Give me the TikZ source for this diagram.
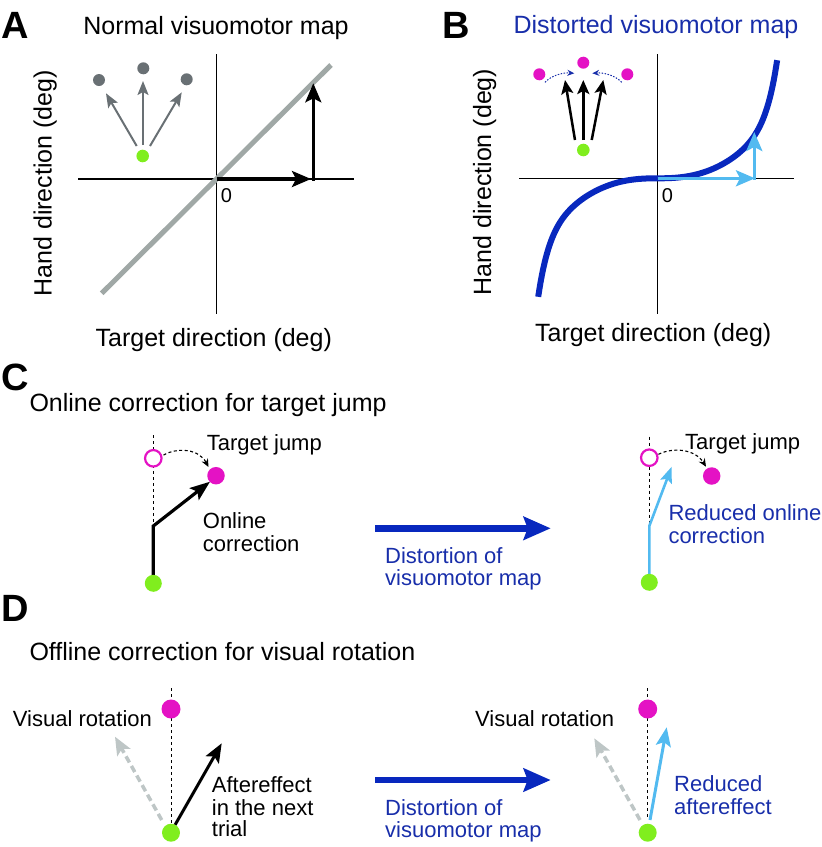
\documentclass[tikz,border=0pt]{standalone}
\usepackage{fontspec}
\setmainfont{Liberation Sans}
\usetikzlibrary{arrows.meta}
\definecolor{mag}{RGB}{228,18,196}
\definecolor{grn}{RGB}{128,238,30}
\definecolor{dblue}{RGB}{8,40,190}
\definecolor{tblue}{RGB}{24,46,170}
\definecolor{lblue}{RGB}{82,186,240}
\definecolor{lgray}{RGB}{160,168,166}
\definecolor{dgray}{RGB}{105,112,116}
\definecolor{pgray}{RGB}{190,198,198}
\begin{document}
\begin{tikzpicture}[x=1pt,y=-1pt,
  lab/.style={inner sep=0pt, anchor=base west, font=\fontsize{22}{22}\selectfont},
  ttl/.style={inner sep=0pt, font=\fontsize{25}{30}\selectfont},
  letter/.style={inner sep=0pt, anchor=base west, font=\fontsize{38}{40}\selectfont\bfseries},
  zero/.style={inner sep=0pt, anchor=base west, font=\fontsize{20}{20}\selectfont},
  dot/.style={circle, inner sep=0pt, minimum size=#1},
  ring/.style={circle, inner sep=0pt, minimum size=16.5pt, draw=mag, line width=2.2pt, fill=white},
  axisline/.style={line width=1.2pt},
  guide/.style={line width=1pt, dash pattern=on 3pt off 3pt},
  jumparc/.style={line width=1.1pt, dash pattern=on 3pt off 2.5pt, -{Stealth[length=8pt,width=7pt]}},
  bigarrow/.style={dblue, line width=6.7pt, -{Stealth[length=27pt,width=23pt,inset=4pt]}},
  blkarrow/.style={line width=3.2pt, -{Stealth[length=19pt,width=16pt,inset=4pt]}},
  lbarrow/.style={lblue, line width=3.2pt, -{Stealth[length=19pt,width=16pt,inset=4pt]}},
  fanarrow/.style={dgray, line width=2pt, -{Stealth[length=14pt,width=11pt,inset=3pt]}},
  fanblack/.style={black, line width=2.5pt, -{Stealth[length=14pt,width=12pt,inset=3pt]}},
  dotarc/.style={tblue, line width=1pt, dash pattern=on 1.5pt off 1.5pt, -{Stealth[length=7pt,width=6pt]}},
  rotarrow/.style={pgray, line width=3.5pt, dash pattern=on 7pt off 4pt, -{Stealth[length=18pt,width=15pt,inset=4pt]}},
]
\useasboundingbox (0,0) rectangle (822,847);

% ================= Panel A =================
\node[letter] (lA) at (1.7,38.3) {A};
\node[ttl, anchor=base] (tA) at (216,34) {Normal visuomotor map};
\coordinate (ayT) at (216.7,54); \coordinate (ayB) at (216.7,314);
\coordinate (axL) at (78.3,179); \coordinate (axR) at (354,179);
\draw[axisline] (ayT) -- (ayB);
\draw[axisline] (axL) -- (axR);
\coordinate (dL) at (101.7,293.3); \coordinate (dR) at (331,65);
\draw[lgray, line width=5pt] (dL) -- (dR);
\coordinate (oA) at (216.7,179); \coordinate (hA) at (311,179);
\coordinate (vA0) at (313.3,180.6); \coordinate (vA1) at (313.3,83.3);
\draw[blkarrow] (oA) -- (hA);
\draw[blkarrow] (vA0) -- (vA1);
\node[zero] (zA) at (220.7,202.7) {0};
\node[ttl, rotate=90, anchor=base] (yA) at (51.7,183.3) {Hand direction (deg)};
\node[ttl, anchor=base] (xA) at (213.8,346.7) {Target direction (deg)};
% inset
\node[dot=12.6pt, fill=grn] (gA) at (142.7,156) {};
\node[dot=12pt, fill=dgray] (pA1) at (99,80) {};
\node[dot=12pt, fill=dgray] (pA2) at (143.3,68.3) {};
\node[dot=12pt, fill=dgray] (pA3) at (186.7,79.3) {};
\coordinate (sA1) at (136.7,146); \coordinate (eA1) at (106,93.3);
\coordinate (sA2) at (143,145);   \coordinate (eA2) at (143,81);
\coordinate (sA3) at (150,146);   \coordinate (eA3) at (181.7,92.3);
\draw[fanarrow] (sA1) -- (eA1);
\draw[fanarrow] (sA2) -- (eA2);
\draw[fanarrow] (sA3) -- (eA3);

% ================= Panel B =================
\node[letter] (lB) at (442.7,38.3) {B};
\node[ttl, anchor=base, text=tblue] (tB) at (656,33.5) {Distorted visuomotor map};
\coordinate (byT) at (657.7,54); \coordinate (byB) at (657.7,314);
\coordinate (bxL) at (519.3,178.3); \coordinate (bxR) at (794.3,178.3);
\draw[axisline] (byT) -- (byB);
\draw[axisline] (bxL) -- (bxR);
\draw[dblue, line width=6pt]
  plot[domain=-1:1, samples=121, smooth]
  ({657.7+119.5*\x},{178.3-118.5*\x*abs(\x)*(0.55*sqrt(abs(\x))+0.45*(\x*\x)*(\x*\x)*(\x*\x)*(\x*\x)*(\x*\x))});
\coordinate (oB) at (657.7,178.3); \coordinate (hB) at (755,178.3);
\coordinate (vB0) at (754.3,179.9); \coordinate (vB1) at (754.3,132);
\draw[lbarrow] (oB) -- (hB);
\draw[lbarrow] (vB0) -- (vB1);
\node[zero] (zB) at (661.7,202) {0};
\node[ttl, rotate=90, anchor=base] (yB) at (491,182) {Hand direction (deg)};
\node[ttl, anchor=base] (xB) at (653.2,341.7) {Target direction (deg)};
% inset
\node[dot=12.6pt, fill=grn] (gB) at (583.3,150) {};
\node[dot=12pt, fill=mag] (mB1) at (539.3,74.3) {};
\node[dot=12pt, fill=mag] (mB2) at (583.3,62.7) {};
\node[dot=12pt, fill=mag] (mB3) at (627.3,74.3) {};
\coordinate (sB1) at (575,140);   \coordinate (eB1) at (565,80);
\coordinate (sB2) at (583.3,140); \coordinate (eB2) at (583.3,80);
\coordinate (sB3) at (591.7,140); \coordinate (eB3) at (603.3,80);
\draw[fanblack] (sB1) -- (eB1);
\draw[fanblack] (sB2) -- (eB2);
\draw[fanblack] (sB3) -- (eB3);
\coordinate (aB1) at (545,82.3);  \coordinate (bB1) at (574.3,73.3);
\coordinate (aB2) at (621.7,82.3); \coordinate (bB2) at (592.3,73.3);
\draw[dotarc] (aB1) .. controls (552,75) and (563,72.5) .. (bB1);
\draw[dotarc] (aB2) .. controls (614.7,75) and (603.7,72.5) .. (bB2);

% ================= Panel C =================
\node[letter] (lC) at (1.7,390) {C};
\node[ttl, anchor=base west] (tC) at (29.3,411.7) {Online correction for target jump};
% left
\coordinate (cg1) at (153.3,583.3);
\coordinate (cd1a) at (153.3,435); \coordinate (cd1b) at (153.3,525);
\draw[guide] (cd1a) -- (cd1b);
\coordinate (ck1) at (153.3,526); \coordinate (ct1) at (210,481.7);
\draw[line width=3.2pt, line join=miter, -{Stealth[length=20pt,width=15pt,inset=4pt]}] (cg1) -- (ck1) -- (ct1);
\node[ring] (oc1) at (153.3,458.3) {};
\node[dot=17.5pt, fill=mag] (m1) at (216,475.7) {};
\node[dot=17pt, fill=grn] (g1) at (cg1) {};
\coordinate (ja1) at (163.5,455); \coordinate (jb1) at (208.5,467);
\draw[jumparc] (ja1) .. controls (178,447) and (199,449) .. (jb1);
\node[lab] (tj1) at (206.7,450) {Target jump};
\node[lab] (oc1a) at (202.7,528.3) {Online};
\node[lab] (oc1b) at (202.7,551.7) {correction};
% middle
\coordinate (ba1) at (375,528.3); \coordinate (bb1) at (550.7,528.3);
\draw[bigarrow] (ba1) -- (bb1);
\node[lab, text=tblue] (dc1) at (385,563.3) {Distortion of};
\node[lab, text=tblue] (dc2) at (385,585.7) {visuomotor map};
% right
\coordinate (cg2) at (649.3,582.3);
\coordinate (cd2a) at (649.3,436.7); \coordinate (cd2b) at (649.3,526.7);
\draw[guide] (cd2a) -- (cd2b);
\coordinate (ck2) at (649.3,526); \coordinate (ct2) at (671.7,466.7);
\draw[lblue, line width=2.6pt, -{Stealth[length=16pt,width=12pt,inset=3pt]}] (cg2) -- (ck2) -- (ct2);
\node[ring] (oc2) at (649.3,457.7) {};
\node[dot=17.5pt, fill=mag] (m2) at (711.7,476) {};
\node[dot=17pt, fill=grn] (g2) at (cg2) {};
\coordinate (ja2) at (658.5,454.3); \coordinate (jb2) at (706,466.7);
\draw[jumparc] (ja2) .. controls (673,447) and (695,449) .. (jb2);
\node[lab] (tj2) at (685,449.3) {Target jump};
\node[lab, text=tblue] (rc1) at (668.3,520) {Reduced online};
\node[lab, text=tblue] (rc2) at (668.3,543.3) {correction};

% ================= Panel D =================
\node[letter] (lD) at (1.7,621) {D};
\node[ttl, anchor=base west] (tD) at (29.3,660.7) {Offline correction for visual rotation};
% left
\coordinate (dd1a) at (171,688.3); \coordinate (dd1b) at (171,826.7);
\draw[guide] (dd1a) -- (dd1b);
\coordinate (rs1) at (161.7,820); \coordinate (re1) at (115,736.7);
\draw[rotarrow] (rs1) -- (re1);
\coordinate (as1) at (175,825); \coordinate (ae1) at (221.7,743.3);
\draw[line width=3pt, -{Stealth[length=19pt,width=15pt,inset=4pt]}] (as1) -- (ae1);
\node[dot=19pt, fill=mag] (m3) at (171,709) {};
\node[dot=18pt, fill=grn] (g3) at (171,832.7) {};
\node[lab] (vr1) at (12.7,726) {Visual rotation};
\node[lab] (af1) at (211.7,792.7) {Aftereffect};
\node[lab] (af2) at (211.7,815) {in the next};
\node[lab] (af3) at (211.7,836.7) {trial};
% middle
\coordinate (ba2) at (375,780); \coordinate (bb2) at (550.7,780);
\draw[bigarrow] (ba2) -- (bb2);
\node[lab, text=tblue] (dd1) at (385,815) {Distortion of};
\node[lab, text=tblue] (dd2) at (385,837.3) {visuomotor map};
% right
\coordinate (dd2a) at (647.7,688.3); \coordinate (dd2b) at (647.7,820);
\draw[guide] (dd2a) -- (dd2b);
\coordinate (rs2) at (640,820); \coordinate (re2) at (594.3,738.3);
\draw[rotarrow] (rs2) -- (re2);
\coordinate (ls2) at (650,820); \coordinate (le2) at (666.7,727.3);
\draw[lblue, line width=3pt, -{Stealth[length=19pt,width=15pt,inset=4pt]}] (ls2) -- (le2);
\node[dot=19pt, fill=mag] (m4) at (647.7,709) {};
\node[dot=18pt, fill=grn] (g4) at (647.7,832.7) {};
\node[lab] (vr2) at (475,726) {Visual rotation};
\node[lab, text=tblue] (ra1) at (674,791.7) {Reduced};
\node[lab, text=tblue] (ra2) at (674,814) {aftereffect};
\end{tikzpicture}
\end{document}
